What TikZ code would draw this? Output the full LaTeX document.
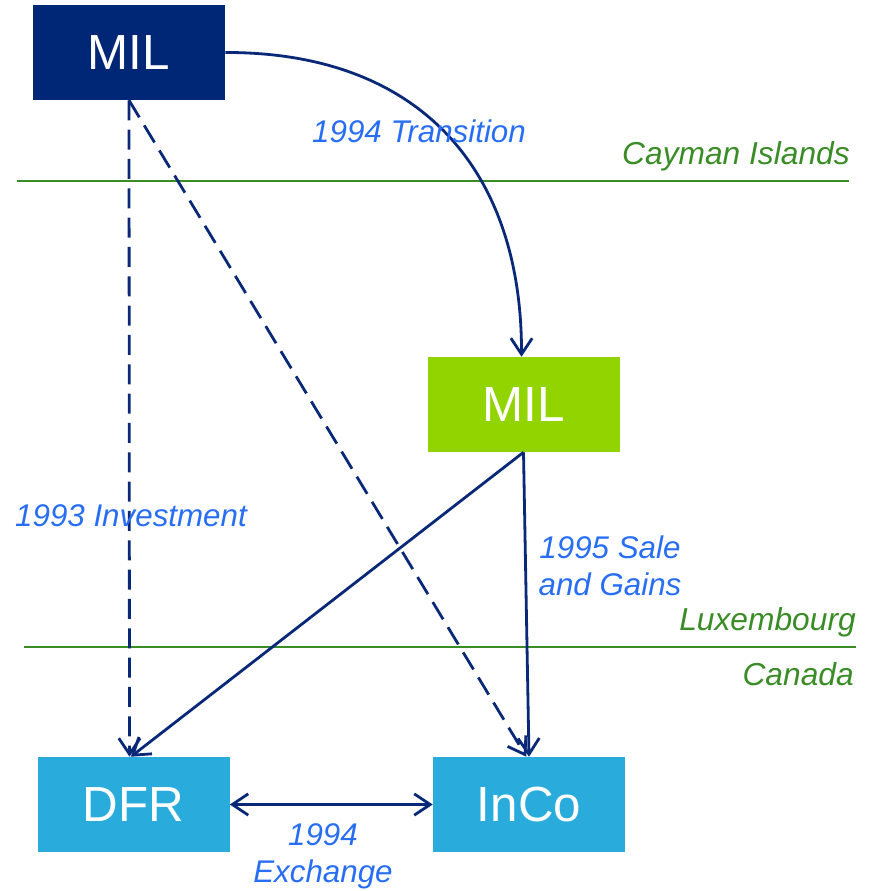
\documentclass[tikz,border=0pt]{standalone}
\usepackage{fontspec}
\setmainfont{Liberation Sans}
\usetikzlibrary{arrows.meta}
\definecolor{navy}{RGB}{0,39,118}
\definecolor{arrowc}{RGB}{10,40,120}
\definecolor{limeg}{RGB}{146,212,0}
\definecolor{cyanb}{RGB}{41,171,220}
\definecolor{lblue}{RGB}{40,110,245}
\definecolor{lgreen}{RGB}{58,140,38}
\tikzset{
  ent/.style={minimum width=144pt,minimum height=71.25pt,inner sep=0pt,text=white,font=\fontsize{37}{40}\selectfont},
  conn/.style={draw=arrowc,line width=2.1pt,-{Straight Barb[length=12pt,width=16pt,line width=2.1pt]}},
  dconn/.style={conn,dash pattern=on 15pt off 7pt},
  lbl/.style={text=lblue,font=\fontsize{23.5}{28}\selectfont\itshape,inner sep=0pt,align=center},
  glbl/.style={text=lgreen,font=\fontsize{23.8}{28}\selectfont\itshape,inner sep=0pt},
  border/.style={draw=lgreen,line width=1.3pt}
}
\begin{document}
\begin{tikzpicture}[x=0.75pt,y=-0.75pt]
\useasboundingbox (0,0) rectangle (872,891);
% borders
\coordinate (c1) at (17,181); \coordinate (c2) at (849,181);
\coordinate (l1) at (24,647); \coordinate (l2) at (856,647);
\draw[border] (c1) -- (c2);
\draw[border] (l1) -- (l2);
\node[glbl,anchor=base east] (cay) at (850,165) {Cayman Islands};
\node[glbl,anchor=base east] (lux) at (856,630) {Luxembourg};
\node[glbl,anchor=base east] (can) at (854,685) {Canada};
% boxes
\node[ent,fill=navy] (mil1) at (129,52.5) {MIL};
\node[ent,fill=limeg] (mil2) at (523.5,404.5) {MIL};
\node[ent,fill=cyanb] (dfr) at (133.5,804.5) {DFR};
\node[ent,fill=cyanb] (inco) at (529,804.5) {InCo};
% connectors
\draw[conn] (mil1.east) .. controls (420,52) and (522,170) .. ([xshift=-1.5pt]mil2.north);
\draw[dconn] (mil1.south) -- ([xshift=-3pt]dfr.north);
\draw[dconn] (mil1.south) -- ([xshift=-2pt]inco.north);
\draw[conn] (mil2.south) -- ([xshift=-2pt]dfr.north);
\draw[conn] (mil2.south) -- (inco.north);
\draw[conn,{Straight Barb[length=12pt,width=16pt,line width=2.1pt]}-{Straight Barb[length=12pt,width=16pt,line width=2.1pt]}] (dfr.east) -- (inco.west);
% labels
\node[lbl] (t1) at (419,131) {1994 Transition};
\node[lbl] (t2) at (131,516) {1993 Investment};
\node[lbl,align=center] (t3) at (610,566) {1995 Sale\\and Gains};
\node[lbl,align=center] (t4) at (323,856) {1994\\Exchange};
\end{tikzpicture}
\end{document}
